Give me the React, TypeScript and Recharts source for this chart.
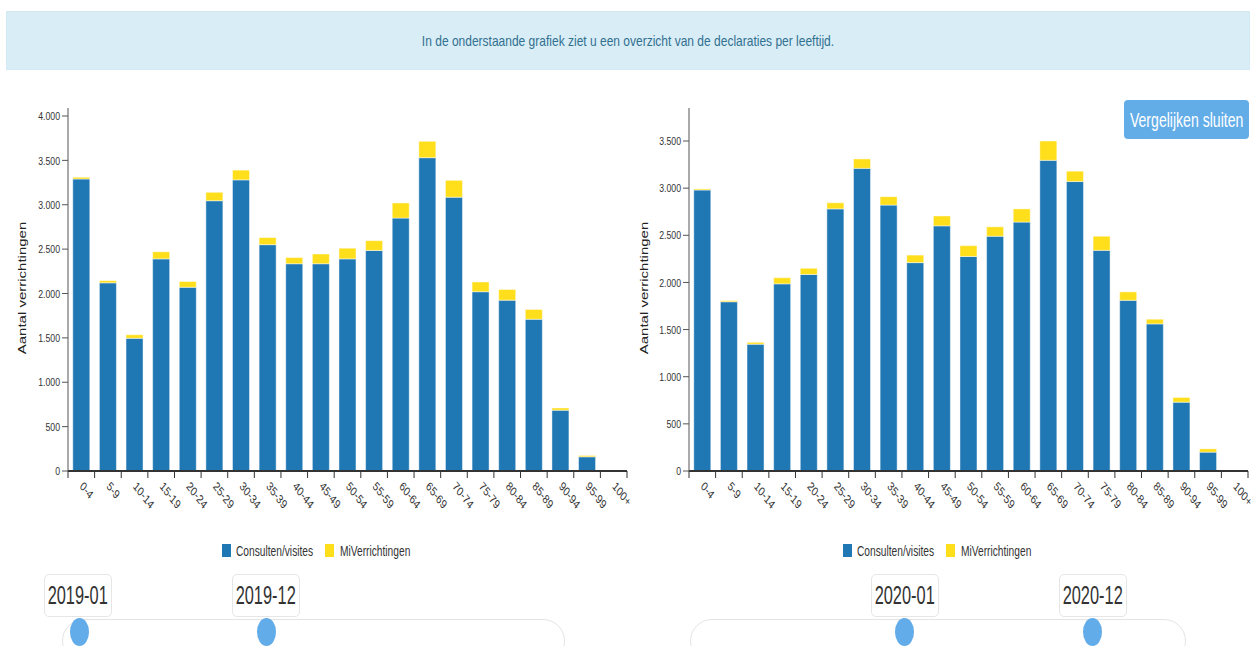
import React from 'react';
import { BarChart, Bar, XAxis, YAxis } from 'recharts';

const AGE_GROUPS = [
  '0-4', '5-9', '10-14', '15-19', '20-24', '25-29', '30-34', '35-39', '40-44', '45-49',
  '50-54', '55-59', '60-64', '65-69', '70-74', '75-79', '80-84', '85-89', '90-94', '95-99', '100+',
];

// 2019-01 .. 2019-12
const CONSULTEN_2019 = [3290, 2120, 1495, 2390, 2070, 3045, 3280, 2550, 2335, 2335, 2390, 2485, 2850, 3530, 3085, 2020, 1925, 1710, 685, 160, 0];
const MIVERR_2019 = [20, 25, 40, 80, 65, 95, 110, 80, 70, 110, 120, 110, 170, 185, 190, 110, 120, 110, 25, 15, 0];

// 2020-01 .. 2020-12
const CONSULTEN_2020 = [2980, 1795, 1345, 1985, 2085, 2780, 3210, 2820, 2210, 2600, 2275, 2490, 2640, 3295, 3070, 2340, 1810, 1560, 730, 200, 0];
const MIVERR_2020 = [12, 12, 20, 65, 65, 65, 100, 90, 80, 105, 115, 100, 140, 205, 110, 150, 90, 50, 50, 35, 0];

const Y_TICKS_2019 = [0, 500, 1000, 1500, 2000, 2500, 3000, 3500, 4000];
const Y_TICKS_2020 = [0, 500, 1000, 1500, 2000, 2500, 3000, 3500];
const Y_MAX_2019 = 4090;
const Y_MAX_2020 = 3850;

const PERIOD_2019 = ['2019-01', '2019-12'];
const PERIOD_2020 = ['2020-01', '2020-12'];
const SERIES_NAMES = ['Consulten/visites', 'MiVerrichtingen'];

const BLUE = '#1f77b4';
const YELLOW = '#ffdf1b';
const FONT = "'Liberation Sans', Arial, sans-serif";
const BAND = 559 / AGE_GROUPS.length;

const fmt = (v: number) => String(v).replace(/\B(?=(\d{3})+(?!\d))/g, '.');

function XTick(props: any) {
  const { x, y, payload, index } = props;
  const bx = x - BAND / 2;
  return (
    <g>
      <line x1={bx} y1={y} x2={bx} y2={y + 7} stroke="#333" />
      {index === AGE_GROUPS.length - 1 && (
        <line x1={x + BAND / 2} y1={y} x2={x + BAND / 2} y2={y + 7} stroke="#333" />
      )}
      <text
        transform={`translate(${x - 2},${y + 16}) scale(0.78,1) rotate(45)`}
        fontSize={12.5}
        fontFamily={FONT}
        fill="#333"
      >
        {payload.value}
      </text>
    </g>
  );
}

function YTick(props: any) {
  const { x, y, payload } = props;
  return (
    <text
      transform={`translate(${x},${y}) scale(0.76,1)`}
      textAnchor="end"
      dy="0.36em"
      fontSize={11.5}
      fontFamily={FONT}
      fill="#333"
    >
      {fmt(payload.value)}
    </text>
  );
}

function AgeChart({ consulten, miv, yMax, ticks, axisWidth, leftMargin }: any) {
  const data = AGE_GROUPS.map((age, i) => ({ age, consulten: consulten[i], miv: miv[i] }));
  return (
    <BarChart
      width={leftMargin + axisWidth + 559 + 13}
      height={530}
      data={data}
      margin={{ top: 108, right: 13, left: leftMargin, bottom: 0 }}
      barCategoryGap="18%"
    >
      <XAxis
        dataKey="age"
        interval={0}
        height={59}
        tickLine={false}
        tickSize={0}
        tickMargin={0}
        axisLine={{ stroke: '#333', strokeWidth: 2 }}
        tick={(p: any) => <XTick {...p} />}
      />
      <YAxis
        width={axisWidth}
        domain={[0, yMax]}
        ticks={ticks}
        interval={0}
        tickSize={6}
        tickMargin={2}
        axisLine={{ stroke: '#555' }}
        tickLine={{ stroke: '#555' }}
        tick={(p: any) => <YTick {...p} />}
      />
      <Bar dataKey="consulten" stackId="a" fill={BLUE} stroke="rgba(255,255,255,0.45)" strokeWidth={1} isAnimationActive={false} />
      <Bar dataKey="miv" stackId="a" fill={YELLOW} stroke="rgba(255,255,255,0.45)" strokeWidth={1} isAnimationActive={false} />
    </BarChart>
  );
}

function Squeezed({ text, size, scale, color, width, align = 'left' }: any) {
  return (
    <span
      style={{
        display: 'inline-block',
        width,
        whiteSpace: 'nowrap',
        fontSize: size,
        color,
        transform: `scaleX(${scale})`,
        transformOrigin: align === 'center' ? 'center' : 'left',
        textAlign: align,
      }}
    >
      {text}
    </span>
  );
}

function Legend({ left }: { left: number }) {
  const sq = (c: string) => (
    <span style={{ display: 'inline-block', width: 9, height: 13, background: c }} />
  );
  return (
    <div style={{ position: 'absolute', left, top: 543, display: 'flex', alignItems: 'center', height: 15, fontFamily: FONT }}>
      {sq(BLUE)}
      <span style={{ width: 5 }} />
      <span style={{ width: 78, display: 'inline-block' }}>
        <Squeezed text={SERIES_NAMES[0]} size={15} scale={0.68} color="#333" />
      </span>
      <span style={{ width: 11 }} />
      {sq(YELLOW)}
      <span style={{ width: 6 }} />
      <span style={{ width: 68, display: 'inline-block' }}>
        <Squeezed text={SERIES_NAMES[1]} size={15} scale={0.68} color="#333" />
      </span>
    </div>
  );
}

function Slider({ trackLeft, trackWidth, handles, labelLefts, labels }: any) {
  return (
    <>
      <div
        style={{
          position: 'absolute', left: trackLeft, top: 619, width: trackWidth, height: 44,
          border: '1.5px solid #e4e4e4', borderRadius: 22, background: '#fff', boxSizing: 'border-box',
        }}
      />
      {handles.map((hx: number, i: number) => (
        <div
          key={'h' + i}
          style={{ position: 'absolute', left: hx - 9.5, top: 618, width: 19, height: 28, borderRadius: '50%', background: '#62ace9' }}
        />
      ))}
      {labelLefts.map((lx: number, i: number) => (
        <div
          key={'l' + i}
          style={{
            position: 'absolute', left: lx, top: 574, width: 68, height: 43, boxSizing: 'border-box',
            border: '1px solid #e6e6e6', borderRadius: 5, background: '#fff',
            display: 'flex', alignItems: 'center', justifyContent: 'center', fontFamily: FONT,
          }}
        >
          <Squeezed text={labels[i]} size={26} scale={0.63} color="#333" width={100} align="center" />
        </div>
      ))}
    </>
  );
}

export default function App() {
  return (
    <div style={{ position: 'absolute', left: 0, top: 0, width: 1255, height: 646, overflow: 'hidden', background: '#fff', fontFamily: FONT }}>
      <div
        style={{
          position: 'absolute', left: 6, top: 11, width: 1244, height: 59, boxSizing: 'border-box',
          background: '#d9edf7', border: '1px solid #d3eaf5',
          display: 'flex', alignItems: 'center', justifyContent: 'center',
        }}
      >
        <Squeezed
          text="In de onderstaande grafiek ziet u een overzicht van de declaraties per leeftijd."
          size={15}
          scale={0.8}
          color="#31708f"
          width={560}
          align="center"
        />
      </div>

      <div style={{ position: 'absolute', left: 0, top: 0 }}>
        <AgeChart consulten={CONSULTEN_2019} miv={MIVERR_2019} yMax={Y_MAX_2019} ticks={Y_TICKS_2019} axisWidth={60} leftMargin={8} />
      </div>
      <div style={{ position: 'absolute', left: 630, top: 0 }}>
        <AgeChart consulten={CONSULTEN_2020} miv={MIVERR_2020} yMax={Y_MAX_2020} ticks={Y_TICKS_2020} axisWidth={59} leftMargin={0} />
      </div>

      {[22, 643.5].map((cx) => (
        <div
          key={cx}
          style={{
            position: 'absolute', left: cx - 80, top: 279, width: 160, textAlign: 'center',
            fontSize: 15, lineHeight: '18px', color: '#222', whiteSpace: 'nowrap',
            transform: 'scale(0.72,1) rotate(-90deg)',
          }}
        >
          Aantal verrichtingen
        </div>
      ))}

      <Legend left={222} />
      <Legend left={843} />

      <div
        style={{
          position: 'absolute', left: 1124, top: 100, width: 125, height: 39, borderRadius: 4,
          background: '#62ade8', display: 'flex', alignItems: 'center', justifyContent: 'center',
        }}
      >
        <Squeezed text="Vergelijken sluiten" size={21} scale={0.67} color="#fff" width={170} align="center" />
      </div>

      <Slider trackLeft={62} trackWidth={503} handles={[79, 266]} labelLefts={[44, 232]} labels={PERIOD_2019} />
      <Slider trackLeft={690} trackWidth={496} handles={[904.5, 1092]} labelLefts={[871, 1059]} labels={PERIOD_2020} />
    </div>
  );
}
